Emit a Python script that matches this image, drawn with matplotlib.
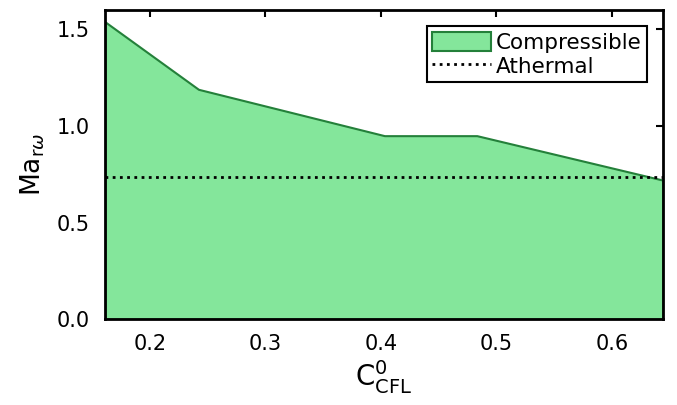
import matplotlib
matplotlib.use("Agg")
import matplotlib.pyplot as plt

plt.rcParams["font.family"] = "DejaVu Sans"
plt.rcParams["mathtext.fontset"] = "dejavusans"

# data
cfl = [0.161, 0.242, 0.403, 0.483, 0.644]
mach_compressible = [1.54, 1.19, 0.95, 0.95, 0.72]
mach_athermal = 0.735

x_ticks = [0.2, 0.3, 0.4, 0.5, 0.6]
y_ticks = [0.0, 0.5, 1.0, 1.5]

FILL = "#84e69b"
EDGE = "#24803a"

fig = plt.figure(figsize=(6.77, 4.05), dpi=100)
ax = fig.add_axes([0.155, 0.212, 0.824, 0.763])

ax.fill_between(cfl, 0, mach_compressible, facecolor=FILL, edgecolor=EDGE,
                linewidth=1.5, zorder=2, label="Compressible")
ax.axhline(mach_athermal, color="black", linestyle=(0, (1, 1.6)),
           linewidth=2.0, zorder=3, label="Athermal")

ax.set_xlim(cfl[0], cfl[-1])
ax.set_ylim(0, 1.6)
ax.set_xticks(x_ticks)
ax.set_yticks(y_ticks)
ax.set_axisbelow(True)
ax.tick_params(direction="in", top=True, right=True, length=5, width=1.5,
               labelsize=15, pad=11)
for spine in ax.spines.values():
    spine.set_linewidth(2.0)
    spine.set_zorder(5)

ax.set_xlabel(r"$\mathregular{C^{0}_{CFL}}$", fontsize=20, labelpad=3)
ax.set_ylabel(r"$\mathregular{Ma}_{\mathregular{r}\omega}$", fontsize=19, labelpad=7)

leg = ax.legend(loc="upper right", fontsize=15.5, frameon=True, fancybox=False,
                handlelength=2.75, handleheight=1.0, handletextpad=0.2,
                borderpad=0.25, labelspacing=0.15, borderaxespad=0.75)
leg.get_frame().set_edgecolor("black")
leg.get_frame().set_linewidth(1.5)
leg.get_frame().set_alpha(1)

fig.savefig("out.png", dpi=100, facecolor="white")
plt.close(fig)
